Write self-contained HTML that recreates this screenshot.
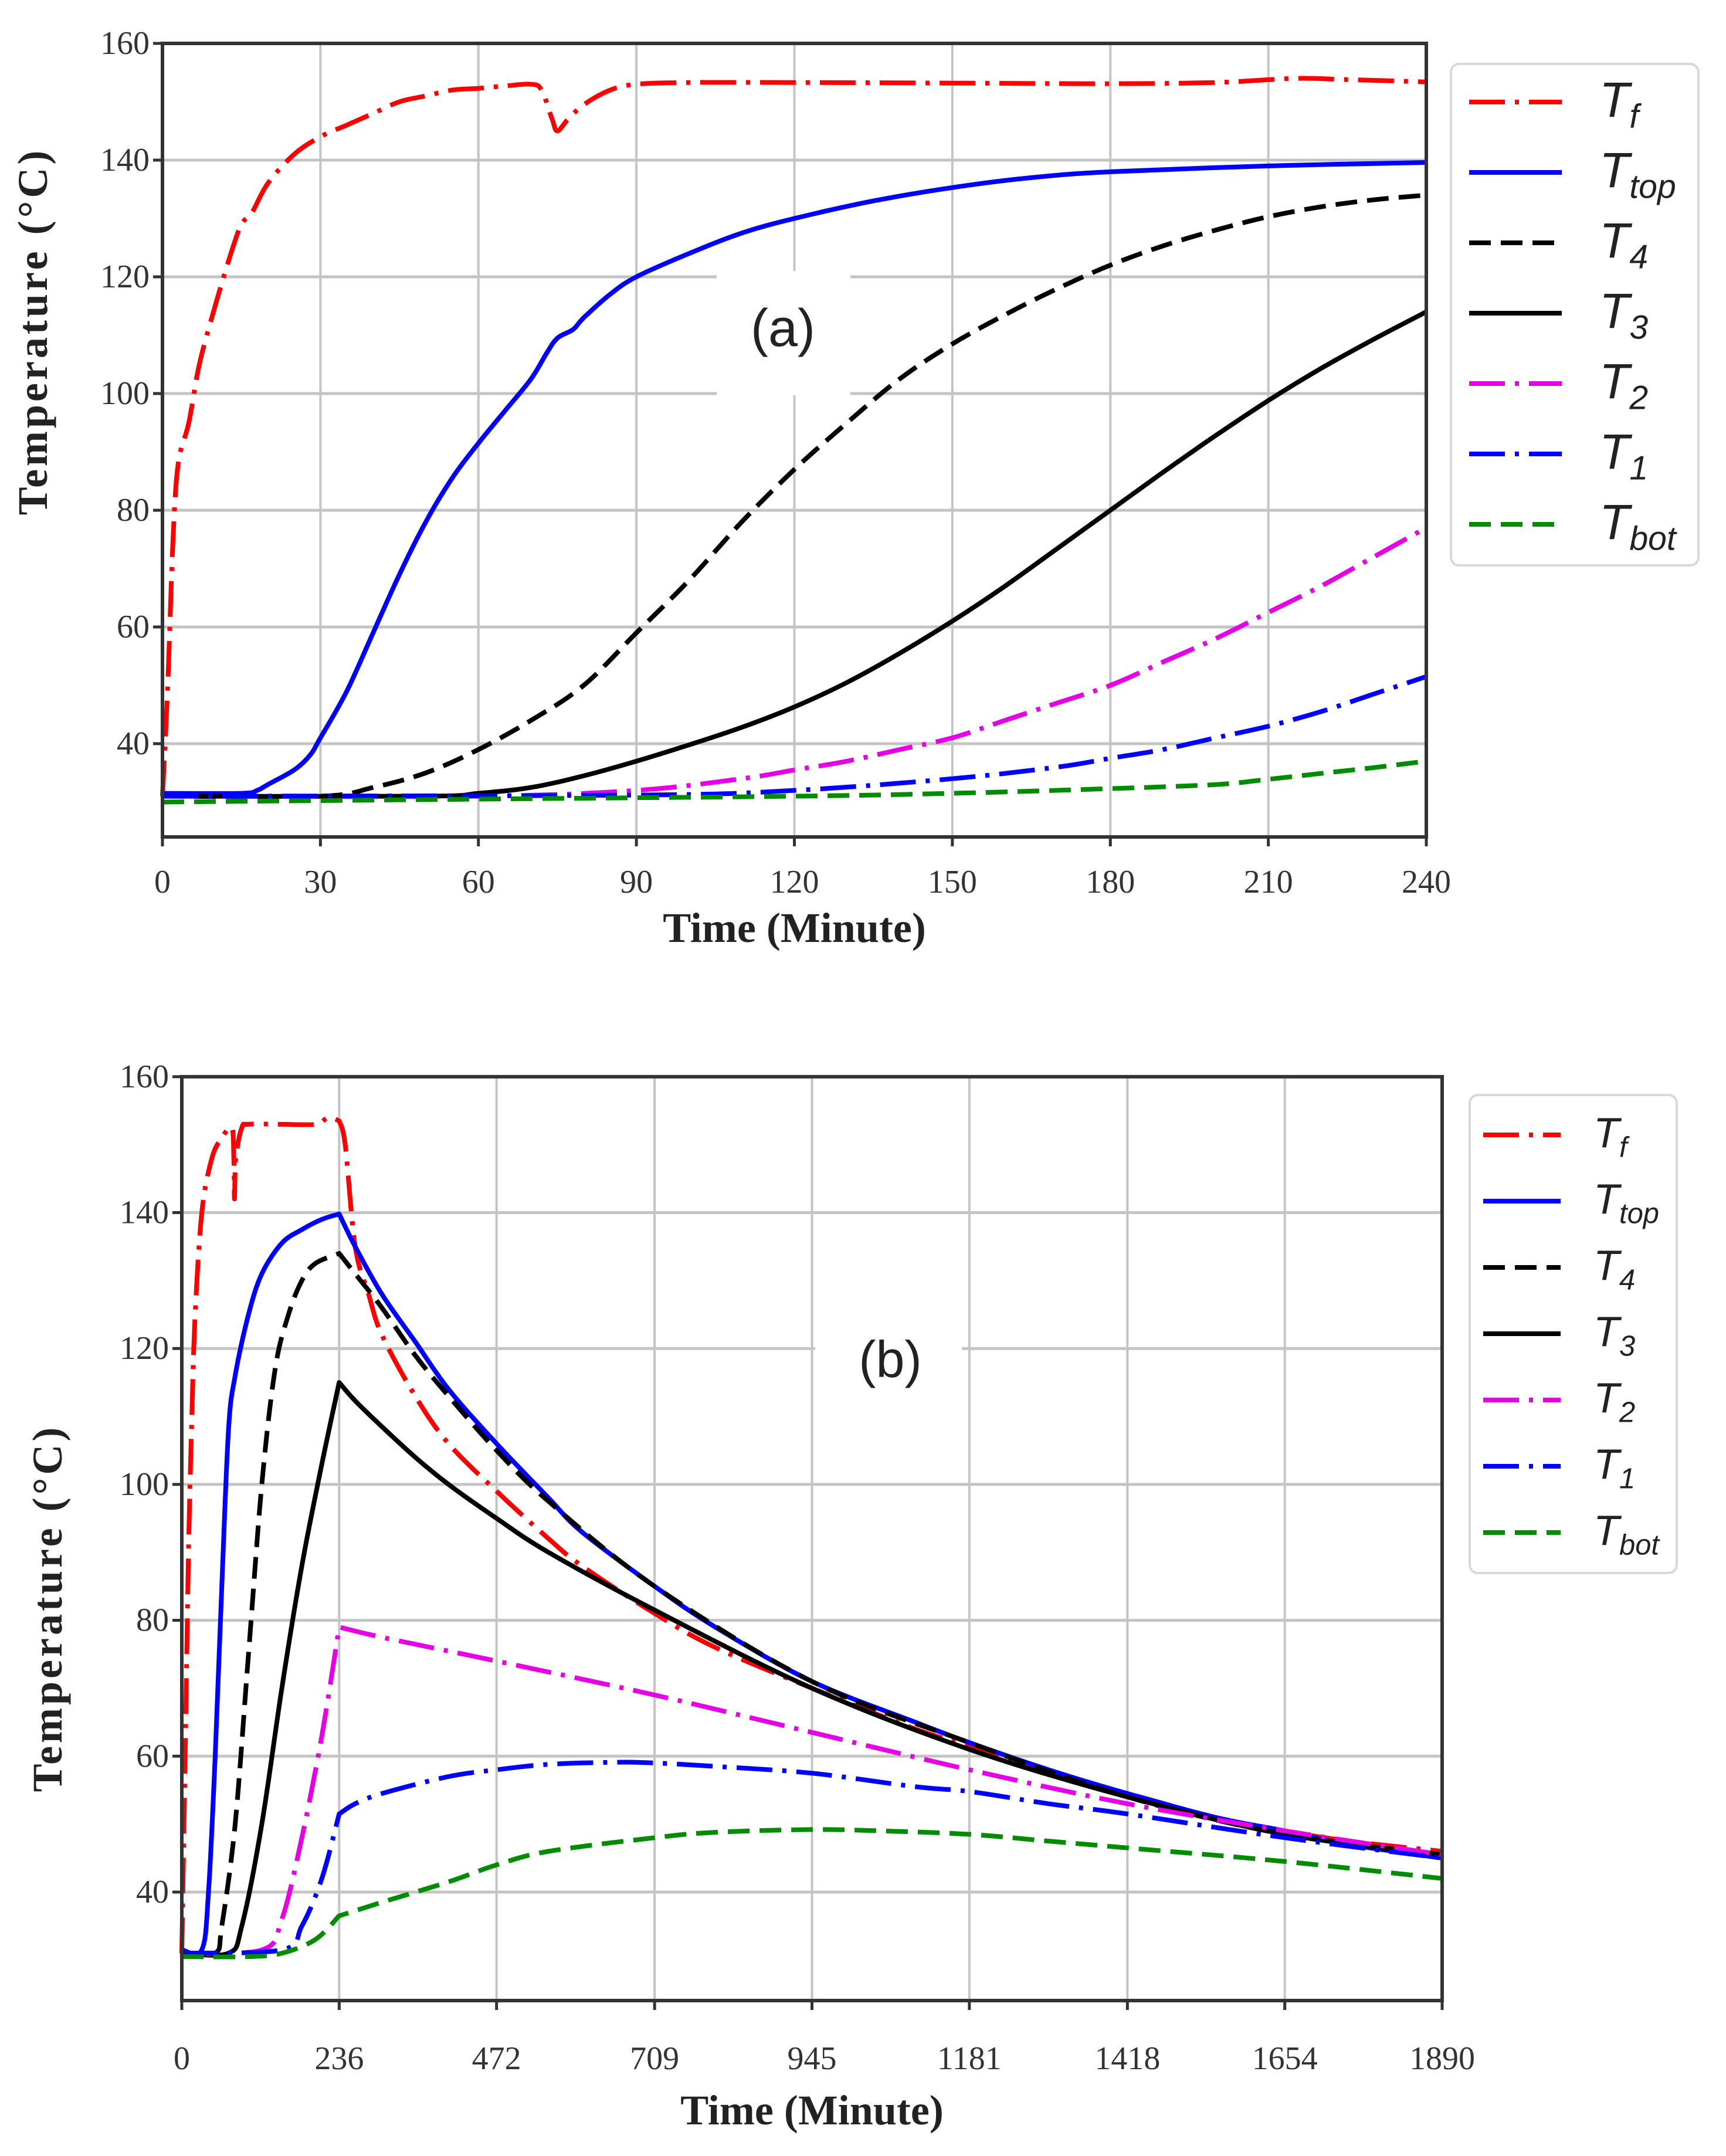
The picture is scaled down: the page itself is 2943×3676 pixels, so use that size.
<!DOCTYPE html>
<html><head><meta charset="utf-8">
<style>
html,body{margin:0;padding:0;background:#fff;}
svg{display:block;}
.tick{font-family:"Liberation Serif",serif;font-size:56px;fill:#333;}
.axt{font-family:"Liberation Serif",serif;font-size:72px;font-weight:bold;fill:#222;}
.leg{font-family:"Liberation Sans",sans-serif;font-style:italic;fill:#222;}
.ann{font-family:"Liberation Sans",sans-serif;fill:#222;}
</style></head>
<body>
<svg id="fig" xmlns="http://www.w3.org/2000/svg" width="2943" height="3676" viewBox="0 0 2943 3676"></svg>
<script>
// ---------- Panel (a) data ----------
const aTfT=[0,1,2,3,5,7,10,13,15,17,20,25,30,35,40,45,50,55,60,65,70,72,74,75,77,80,85,90,100,120,150,180,200,215,225,240];
const aTfV=[31,50,75,88,95,105,115,124,129,131,136,141,144,146,148,150,151,152,152.3,152.7,153,152,147,145,147,149.5,152,153,153.3,153.3,153.2,153.1,153.3,154,153.8,153.4];
const aTopT=[0,15,18,20,25,28,30,35,40,45,50,55,60,65,70,73,75,78,80,85,90,100,110,120,135,150,165,180,210,240];
const aTopV=[31.5,31.5,32,33,35.5,38,41,49,59,69,78,85.5,91.5,97,102.5,107,109.5,111,113,117,120,124,127.5,130,133,135.3,137,138,139,139.6];
const aT4T=[0,30,40,50,60,70,80,90,100,110,120,130,140,150,160,170,180,190,200,210,220,230,240];
const aT4V=[31,31,32.5,35,39,44,50,59,68,78,87,95,102.5,108.5,113.5,118,122,125.3,128,130.3,132,133.2,134];
const aT3T=[0,50,60,70,80,90,100,110,120,130,140,150,160,170,180,190,200,210,220,230,240];
const aT3V=[31,31,31.5,32.5,34.5,37,39.8,42.8,46.3,50.5,55.5,61,67,73.5,80,86.5,92.8,98.8,104.3,109.3,114];
const aT2T=[0,60,90,110,120,130,140,150,160,170,180,190,200,210,220,230,240];
const aT2V=[31,31,32,34,35.5,37,39,41,44,47,50,54,58,62.5,67,72,77];
const aT1T=[0,90,120,150,170,180,190,200,210,220,230,240];
const aT1V=[31,31.2,32,34,36,37.5,39,41,43,45.5,48.5,51.5];
const aBotT=[0,60,120,150,180,200,210,220,230,240];
const aBotV=[30,30.5,31,31.5,32.3,33,33.9,34.9,35.9,37];
const aXTicks=[0,30,60,90,120,150,180,210,240];
const aXLabels=["0","30","60","90","120","150","180","210","240"];
// ---------- Panel (b) data ----------
const bTfT=[0,5,10,15,20,30,45,60,75,78,79,81,90,100,150,200,220,236,245,260,280,300,350,400,472,550,600,709,800,945,1100,1181,1300,1418,1550,1654,1750,1890];
const bTfV=[31,60,90,110,125,140,148,151,152.5,148,142,148,152.5,153,153,153,154,153.5,150,135,128,122,113,106,99,92,88,81,76,70,64,61.5,57.5,54.5,51,49,47.5,46];
const bTopT=[0,30,40,50,60,70,80,100,120,150,180,210,236,260,300,350,400,472,550,600,709,800,945,1100,1181,1300,1418,1550,1654,1750,1890];
const bTopV=[31.5,31.5,40,60,85,108,116,125,131,135.5,137.5,139,139.8,135,128,121,114,106,98,93,85,79,71,65,62,58,54.5,51,49,47,45];
const bT4T=[0,50,60,80,100,120,140,160,180,200,236,260,300,350,400,472,550,709,945,1181,1418,1654,1890];
const bT4V=[31,31,35,50,75,100,117,125,130,132.5,134,131,126,119,113,105,97.5,85,71,62,54,48.5,45.5];
const bT3T=[0,70,90,120,150,180,210,236,260,300,350,400,472,550,709,945,1181,1418,1654,1890];
const bT3V=[31,31,35,50,70,88,103,115,112.3,108.5,104,100,95,90,81.5,70,61,54,48.5,45.5];
const bT2T=[0,120,150,180,210,236,300,472,709,945,1181,1418,1654,1890];
const bT2V=[31,31.5,36,48,63,79,77.5,74,69,63.5,58,53,49,45.5];
const bT1T=[0,150,180,210,236,260,300,400,472,550,650,709,800,945,1100,1181,1300,1418,1654,1890];
const bT1V=[31,31.5,35,42,51.5,53,54.5,57,58,58.8,59.1,59,58.5,57.5,55.5,54.8,53,51.5,48,45];
const bBotT=[0,100,150,200,236,300,400,472,550,709,800,945,1050,1181,1300,1418,1654,1890];
const bBotV=[30.5,30.5,31,33,36.5,38.5,41.5,44,46,48,48.8,49.2,49,48.5,47.5,46.5,44.5,42];
const bXTicks=[0,236,472,709,945,1181,1418,1654,1890];
const bXLabels=["0","236","472","709","945","1181","1418","1654","1890"];
// shared
const yTicks=[40,60,80,100,120,140,160];
const yLabels=["40","60","80","100","120","140","160"];
const seriesNames=["Tf","Ttop","T4","T3","T2","T1","Tbot"];
const legendSubs=["f","top","4","3","2","1","bot"];

const NS="http://www.w3.org/2000/svg";
const svg=document.getElementById('fig');
function mk(tag,attrs,parent){const e=document.createElementNS(NS,tag);for(const k in attrs)e.setAttribute(k,attrs[k]);(parent||svg).appendChild(e);return e;}

const styles=[
 {c:"#ff0000",d:"61 17 7 17"},
 {c:"#0000ff",d:""},
 {c:"#000000",d:"37 17"},
 {c:"#000000",d:""},
 {c:"#e600e6",d:"61 17 7 17"},
 {c:"#0000ff",d:"61 17 7 17"},
 {c:"#008c00",d:"37 17"}
];

function smoothSeg(pts,start){
  let d=start?"M"+pts[0][0].toFixed(1)+","+pts[0][1].toFixed(1):"";
  for(let i=0;i<pts.length-1;i++){
    const p0=pts[Math.max(0,i-1)],p1=pts[i],p2=pts[i+1],p3=pts[Math.min(pts.length-1,i+2)];
    const c1x=p1[0]+(p2[0]-p0[0])/6,c1y=p1[1]+(p2[1]-p0[1])/6;
    const c2x=p2[0]-(p3[0]-p1[0])/6,c2y=p2[1]-(p3[1]-p1[1])/6;
    d+=" C"+c1x.toFixed(1)+","+c1y.toFixed(1)+" "+c2x.toFixed(1)+","+c2y.toFixed(1)+" "+p2[0].toFixed(1)+","+p2[1].toFixed(1);
  }
  return d;
}

function drawPanel(P){
  const g=mk('g',{});
  
  
  const X=v=>P.x0+(v-P.xmin)/(P.xmax-P.xmin)*(P.x1-P.x0);
  const Y=v=>P.y40+(40-v)/20*P.ys;
  const yb=P.yb, yt=Y(160);
  P.xt.forEach((t,i)=>{
    const l=mk('line',{x1:X(t),x2:X(t),y1:yt,y2:yb,stroke:"#c4c4c4","stroke-width":4},g);
    
    
  });
  yTicks.forEach(v=>{
    const l=mk('line',{x1:P.x0,x2:P.x1,y1:Y(v),y2:Y(v),stroke:"#c4c4c4","stroke-width":5},g);
    
    
  });
  const ab=mk('rect',{x:P.ann.bx,y:P.ann.by,width:P.ann.bw,height:P.ann.bh,fill:"#fff"},g);
  
  
  P.series.forEach((s,i)=>{
    const pts=s[0].map((t,k)=>[X(t),Y(s[1][k])]);
    let d;
    const bi=P.breakAt!=null?s[0].indexOf(P.breakAt):-1;
    if(bi>0){d=smoothSeg(pts.slice(0,bi+1),true)+smoothSeg(pts.slice(bi),false);}
    else d=smoothSeg(pts,true);
    const p=mk('path',{d:d,fill:"none",stroke:styles[i].c,"stroke-width":8,"stroke-linejoin":"round"},g);
    if(styles[i].d)p.setAttribute('stroke-dasharray',styles[i].d);
    
    
  });
  const fr=mk('rect',{x:P.x0,y:yt,width:P.x1-P.x0,height:yb-yt,fill:"none",stroke:"#333","stroke-width":6},g);
  
  
  P.xt.forEach((t,i)=>{
    mk('line',{x1:X(t),x2:X(t),y1:yb,y2:yb+16,stroke:"#333","stroke-width":5},g);
    const tx=mk('text',{x:X(t),y:P.xly,"text-anchor":"middle",class:"tick"},g);
    tx.textContent=P.xl[i];
    
    
  });
  yTicks.forEach((v,i)=>{
    mk('line',{x1:P.x0-16,x2:P.x0,y1:Y(v),y2:Y(v),stroke:"#333","stroke-width":5},g);
    const tx=mk('text',{x:P.x0-22,y:Y(v)+18,"text-anchor":"end",class:"tick"},g);
    tx.textContent=yLabels[i];
    
    
  });
  const xt=mk('text',{x:(P.x0+P.x1)/2,y:P.xty,"text-anchor":"middle",class:"axt"},g);
  xt.textContent="Time (Minute)";
  
  
  const ytl=mk('text',{x:0,y:0,"text-anchor":"middle",class:"axt","letter-spacing":"5",transform:"translate("+P.ytx+","+P.yty+") rotate(-90)"},g);
  ytl.textContent="Temperature  (°C)";
  
  
  const an=mk('text',{x:P.ann.x,y:P.ann.y,"text-anchor":"middle",class:"ann","font-size":P.ann.fs},g);
  an.textContent=P.ann.t;
  
  
  const L=P.leg;
  const lg=mk('g',{},g);
  
  
  mk('rect',{x:L.x,y:L.y,width:L.w,height:L.h,rx:14,fill:"#fff",stroke:"#d8d8d8","stroke-width":4},lg);
  seriesNames.forEach((n,i)=>{
    const yy=L.ey0+i*L.dy;
    const ln=mk('line',{x1:L.lx0,x2:L.lx1,y1:yy,y2:yy,stroke:styles[i].c,"stroke-width":8},lg);
    if(styles[i].d)ln.setAttribute('stroke-dasharray',styles[i].d);
    
    
    const t=mk('text',{x:L.tx,y:yy+L.fs*0.3,class:"leg","font-size":L.fs},lg);
    
    
    t.appendChild(document.createTextNode("T"));
    const sb=document.createElementNS(NS,'tspan');
    sb.setAttribute('font-size',L.fs*0.68);
    sb.setAttribute('dy',L.fs*0.22);
    sb.textContent=legendSubs[i];
    t.appendChild(sb);
  });
}

drawPanel({name:"panel-a",x0:277,x1:2432,xmin:0,xmax:240,y40:1268,ys:199,yb:1427,
  xt:aXTicks,xl:aXLabels,xly:1522,xty:1606,ytx:80,yty:565,
  series:[[aTfT,aTfV],[aTopT,aTopV],[aT4T,aT4V],[aT3T,aT3V],[aT2T,aT2V],[aT1T,aT1V],[aBotT,aBotV]],
  ann:{t:"(a)",x:1335,y:590,fs:90,bx:1222,by:462,bw:228,bh:212},
  leg:{x:2474,y:109,w:422,h:855,ey0:174,dy:120,lx0:2505,lx1:2663,tx:2727,fs:84}});
drawPanel({name:"panel-b",x0:310,x1:2459,xmin:0,xmax:1890,y40:3226,ys:231.7,yb:3411,
  xt:bXTicks,xl:bXLabels,xly:3528,xty:3622,ytx:105,yty:2742,breakAt:236,
  series:[[bTfT,bTfV],[bTopT,bTopV],[bT4T,bT4V],[bT3T,bT3V],[bT2T,bT2V],[bT1T,bT1V],[bBotT,bBotV]],
  ann:{t:"(b)",x:1518,y:2348,fs:88,bx:1390,by:2220,bw:250,bh:210},
  leg:{x:2506,y:1867,w:353,h:815,ey0:1935,dy:113,lx0:2529,lx1:2661,tx:2717,fs:72}});
</script>
</body></html>
